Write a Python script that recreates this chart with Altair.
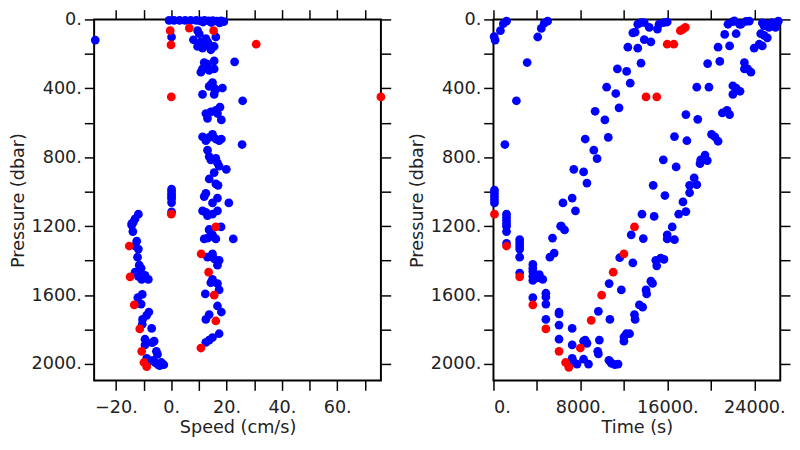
import altair as alt
import pandas as pd

# ---------------- Left panel: speed (cm/s) vs pressure (dbar) ----------------
speed_blue = [
    -0.8, 1.0, 3.0, 5.0, 7.0, 9.0, 10.5, 12.0, 13.5, 15.0, 16.5, 18.0, 19.0, 14.5, 11.5, 17.5,
    0.1, -27.5,
    9.5, 8.0, 10.1, 10.7, 12.5, 13.1, 16.1, 9.5, 11.3, 13.7, 15.5, 14.3,
    22.9,
    15.5, 13.1, 11.3, 12.5, 15.5, 10.7, 13.7, 11.9,
    14.9, 13.7, 15.5, 18.5, 16.1, 11.3, 15.5, 14.3,
    25.8,
    17.6, 16.1, 12.5, 14.3, 13.1, 18.1, 16.7,
    11.3, 12.5, 14.9, 16.1, 18.1, 13.7, 17.3,
    25.6,
    13.1, 13.7, 14.3, 16.1, 16.7, 17.3, 19.9, 15.5, 13.7, 16.1, 16.9,
    12.5, 11.9, 16.7, 14.9, 20.8, 11.3, 13.1, 14.9, 16.7, 12.5,
    13.7, 18.0,
    13.7, 11.9, 13.1, 14.9, 16.1, 14.3, 22.4,
    13.1, 14.9, 15.5, 17.3, 16.7,
    14.9, 14.3, 16.7, 17.3, 12.3,
    16.7, 18.1, 13.7, 12.5,
    17.3, 14.9, 13.7, 12.5,
    0.1, 0.1, 0.1, 0.1, 0.1, 0.1, 0.1,
    -11.9, -13.1, -14.3, -13.7, -14.3, -13.9, -12.5, -13.1, -11.9, -12.2, -11.6, -10.9,
    -13.1, -11.3, -9.5, -8.3, -10.7, -11.9, -10.5, -12.1, -10.9, -8.1, -8.9, -10.4,
    -10.5, -7.1, -9.5, -6.2, -6.9, -9.5, -5.4, -5.0, -8.9, -7.7, -5.9, -4.8, -3.6,
    -2.7, -6.5, -4.2,
]
pres_blue_l = [
    6, 5, 6, 5, 6, 5, 8, 6, 9, 7, 10, 8, 13, 18, 15, 20,
    102, 120,
    65, 118, 83, 130, 111, 130, 102, 157, 167, 148, 157, 176,
    246,
    241, 259, 287, 278, 287, 306, 296, 250,
    367, 389, 398, 398, 407, 435, 435, 380,
    472,
    509, 528, 546, 537, 574, 583, 546,
    681, 704, 667, 694, 694, 685, 704,
    726,
    759, 796, 815, 806, 833, 852, 870, 889, 926, 954, 963,
    1009, 1028, 1037, 1065, 1065, 1111, 1139, 1130, 1111, 1120,
    1219, 1204,
    1222, 1274, 1269, 1250, 1274, 1259, 1274,
    1380, 1361, 1389, 1398, 1426,
    1509, 1528, 1533, 1570, 1593,
    1663, 1698, 1713, 1741,
    1824, 1846, 1861, 1874,
    985, 1000, 1015, 1030, 1040, 1063, 1117,
    1130, 1157, 1185, 1176, 1194, 1231, 1287, 1315, 1333, 1380, 1426, 1444,
    1467, 1472, 1485, 1509, 1509, 1491, 1596, 1615, 1652, 1698, 1717, 1741,
    1769, 1793, 1856, 1867, 1876, 1889, 1926, 1944, 1967, 1981, 1991, 2004, 1991,
    2004, 1978, 2009,
]
speed_red = [
    -0.4, -0.1, 0.0, 0.0, 6.5, 15.3, 30.7, 75.8, 16.1, 10.8, 13.5, 15.5, 16.1, 10.7,
    -15.2, -14.9, -13.4, -11.4, -10.7, -9.9, -8.9,
]
pres_red_l = [
    65, 148, 450, 1130, 50, 65, 144, 450, 1204, 1361, 1467, 1600, 1750, 1907,
    1315, 1494, 1657, 1796, 1926, 1991, 2015,
]

# ---------------- Right panel: time (s) vs pressure (dbar) ----------------
time_blue = [
    60, 150, 640, 905, 1200,
    4070, 4400, 4670, 4980,
    3100, 2110, 1050,
    90, 90, 90, 90, 90,
    1200, 1200, 1200, 1200, 1200, 1200, 1200,
    2410, 2410, 2410, 2410, 2410, 2410,
    3620, 3620, 3620, 3620, 3620, 4220, 4530, 4070, 3620,
    4820, 4820, 4820, 4820,
    6030, 6030, 6030, 6030,
    7240, 7240, 7240, 7690, 7390,
    8440, 8600, 8290, 8290, 8740,
    5430, 5190, 5580, 6180, 6540,
    9350, 8440, 9230, 9530, 7390, 8290, 8600, 7240, 6390, 7540, 6240,
    13030, 13870, 14480, 12360, 13270, 13570, 11400, 12250, 12580, 10410, 11250, 11550,
    10250, 10560,
    14690, 15770, 13660, 14780, 16440, 15620, 16800, 16650, 17790, 17700, 18790, 18700,
    19820, 19700, 20820, 20660, 21720, 21270, 22320,
    23080, 23080, 23380, 23680,
    22020, 22320, 22680, 22020,
    21050, 21480, 21720,
    20060, 20360, 20660,
    19460, 19060, 19000, 19670,
    18460, 18040, 18700, 18040,
    17430, 17700, 17040,
    24580, 24890, 25190, 23980, 24440, 24730,
    13270, 13570, 14330, 15080, 15230, 15680, 15980, 13870,
    21570, 22020, 22630, 23220, 23530, 22770, 22170,
    24890, 25190, 25640, 26090, 25340, 25940, 26200, 24730,
    12820,
    12670, 13780, 11610, 12820, 10640, 11760, 9650, 10710, 9740, 9590, 9650, 10620,
    10860, 11160, 11460, 10800, 12000, 12220, 12520, 12000, 12970, 13030, 13420, 13720,
    14030, 14090, 14480, 14630, 14930, 15020, 15380, 15680, 15980, 15980, 16650,
]
pres_blue_r = [
    100, 120, 65, 25, 10,
    102, 52, 22, 10,
    250, 472, 726,
    991, 1009, 1028, 1047, 1065,
    1130, 1148, 1167, 1185, 1200, 1231, 1300,
    1278, 1296, 1315, 1333, 1380, 1472,
    1422, 1444, 1463, 1491, 1515, 1481, 1509, 1500, 1615,
    1589, 1611, 1652, 1741,
    1698, 1709, 1774, 1856,
    1793, 1889, 1967, 2000, 1991,
    1861, 1880, 1867, 1972, 2000,
    1269, 1380, 1356, 1200, 1222,
    533, 694, 759, 808, 870, 885, 950, 1037, 1065, 1111, 1200,
    74, 117, 130, 161, 167, 254, 287, 302, 370, 393, 430, 513,
    583, 685,
    963, 1022, 1130, 1143, 1204, 815, 856, 680, 704, 552, 580, 393,
    393, 256, 244, 161, 154, 87, 83,
    250, 287, 287, 306,
    385, 398, 417, 435,
    543, 528, 552,
    667, 681, 707,
    787, 815, 837, 819,
    920, 963, 959, 1006,
    1059, 1115, 1130,
    83, 93, 107, 167, 144, 154,
    28, 18, 46, 56, 28, 18, 15, 18,
    28, 13, 28, 12, 10, 28, 9,
    37, 28, 18, 18, 46, 46, 10, 20,
    78,
    1250, 1272, 1383, 1413, 1533, 1570, 1694, 1741, 1861, 1926, 1941, 1978,
    1996, 2004, 2000, 1991, 1843, 1824, 1824, 1867, 1713, 1741, 1657, 1670,
    1570, 1593, 1519, 1532, 1398, 1430, 1385, 1393, 1250, 1274, 1278,
]
time_red = [
    90, 1200, 2410, 3620, 4820, 6030, 6630, 6930, 7990, 8990, 9950, 11010, 12000, 12970,
    14030, 15020, 15980, 16590, 17190, 17400, 17650,
]
pres_red_r = [
    1130, 1315, 1494, 1657, 1796, 1926, 1991, 2019, 1907, 1746, 1600, 1467, 1361, 1204,
    450, 450, 144, 144, 65, 58, 46,
]

# ---------------- axis tick values ----------------
y_ticks = list(range(0, 2001, 200))
speed_ticks = list(range(-20, 71, 10))
time_ticks = list(range(0, 24001, 4000))

left_df = pd.DataFrame({
    "speed": speed_blue + speed_red,
    "p": pres_blue_l + pres_red_l,
    "flag": [0] * len(speed_blue) + [1] * len(speed_red),
})
right_df = pd.DataFrame({
    "time": time_blue + time_red,
    "p": pres_blue_r + pres_red_r,
    "flag": [0] * len(time_blue) + [1] * len(time_red),
})

BLUE = "#0000ff"
RED = "#ff0000"
Y_DOMAIN = [0, 2096]
PANEL_W = 293
PANEL_H = 369
DOT = 80
Y_EXPR = "datum.value % 400 == 0 ? format(datum.value, 'd') + '.' : ''"


def panel(df, xcol, xdomain, xticks, xexpr, xtitle):
    xscale = alt.Scale(domain=xdomain, nice=False, zero=False)
    yscale = alt.Scale(domain=Y_DOMAIN, reverse=True, nice=False, zero=False)
    blue = alt.Chart(df).transform_filter("datum.flag == 0").mark_circle(
        size=DOT, opacity=1, color=BLUE
    ).encode(
        x=alt.X(f"{xcol}:Q", scale=xscale,
                axis=alt.Axis(orient="bottom", values=xticks, labelExpr=xexpr,
                              title=xtitle, labelPadding=9, titlePadding=2)),
        y=alt.Y("p:Q", scale=yscale,
                axis=alt.Axis(orient="left", values=y_ticks, labelExpr=Y_EXPR,
                              title="Pressure (dbar)", labelPadding=3, titlePadding=4)),
    )
    red = alt.Chart(df).transform_filter("datum.flag == 1").mark_circle(
        size=DOT, opacity=1, color=RED
    ).encode(
        x=alt.X(f"{xcol}:Q", scale=xscale,
                axis=alt.Axis(orient="top", values=xticks, labels=False, title=None)),
        y=alt.Y("p:Q", scale=yscale,
                axis=alt.Axis(orient="right", values=y_ticks, labels=False, title=None)),
    )
    return alt.layer(blue, red).resolve_axis(x="independent", y="independent").properties(
        width=PANEL_W, height=PANEL_H
    )


left = panel(left_df, "speed", [-27.9, 75.8], speed_ticks,
             "datum.value % 20 == 0 ? format(datum.value, 'd') + '.' : ''",
             "Speed (cm/s)")
right = panel(right_df, "time", [0, 26380], time_ticks,
              "datum.value % 8000 == 0 ? format(datum.value, 'd') + '.' : ''",
              "Time (s)")

chart = alt.hconcat(left, right, spacing=15).properties(
    padding={"left": 0, "top": -5, "right": 0, "bottom": -3}
).configure_view(
    stroke="black", strokeWidth=2
).configure_axis(
    grid=False, domain=False,
    tickSize=10, tickWidth=1.5, tickColor="black",
    labelFont="DejaVu Sans", labelFontSize=18, labelColor="#222",
    titleFont="DejaVu Sans", titleFontSize=18, titleFontWeight="normal", titleColor="#222",
)

chart.save("out.html", embed_options={"renderer": "svg", "actions": False})
